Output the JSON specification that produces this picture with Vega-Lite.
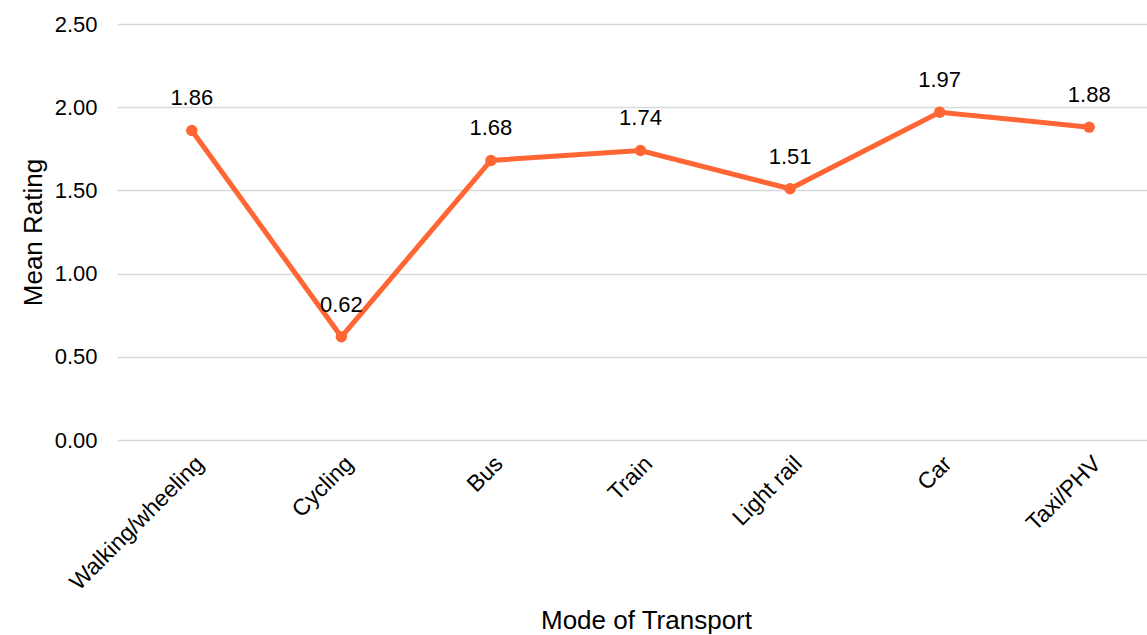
{
  "$schema": "https://vega.github.io/schema/vega-lite/v6.json",
  "autosize": "none",
  "width": 1047,
  "height": 416,
  "padding": {"left": 117, "top": 24, "right": 0, "bottom": 195},
  "background": "white",
  "config": {
    "view": {"stroke": null},
    "font": "Liberation Sans",
    "axis": {"labelFont": "Liberation Sans", "titleFont": "Liberation Sans", "labelColor": "#000000", "titleColor": "#000000", "titleFontWeight": "normal"}
  },
  "data": {
    "values": [
      {"mode": "Walking/wheeling", "rating": 1.86},
      {"mode": "Cycling", "rating": 0.62},
      {"mode": "Bus", "rating": 1.68},
      {"mode": "Train", "rating": 1.74},
      {"mode": "Light rail", "rating": 1.51},
      {"mode": "Car", "rating": 1.97},
      {"mode": "Taxi/PHV", "rating": 1.88}
    ]
  },
  "encoding": {
    "x": {
      "field": "mode", "type": "nominal", "sort": null,
      "scale": {"type": "point", "padding": 0.5},
      "axis": {"title": "Mode of Transport", "titleFontSize": 26, "titlePadding": 13, "titleX": 529, "labelAngle": -45, "labelFontSize": 23, "labelLimit": 400, "labelPadding": 12, "ticks": false, "domain": false, "grid": false}
    },
    "y": {
      "field": "rating", "type": "quantitative",
      "scale": {"domain": [0, 2.5]},
      "axis": {"title": "Mean Rating", "titleFontSize": 26, "titlePadding": 8, "values": [0, 0.5, 1, 1.5, 2, 2.5], "format": ".2f", "labelFontSize": 22, "labelPadding": 20, "ticks": false, "domain": false, "gridColor": "#d9d9d9", "gridWidth": 1.5}
    }
  },
  "layer": [
    {"mark": {"type": "line", "color": "#ff6633", "strokeWidth": 5, "point": {"filled": true, "color": "#ff6633", "size": 130}}},
    {"mark": {"type": "text", "dy": -32, "fontSize": 22, "color": "#000000", "font": "Liberation Sans"}, "encoding": {"text": {"field": "rating", "type": "quantitative", "format": ".2f"}}}
  ]
}
